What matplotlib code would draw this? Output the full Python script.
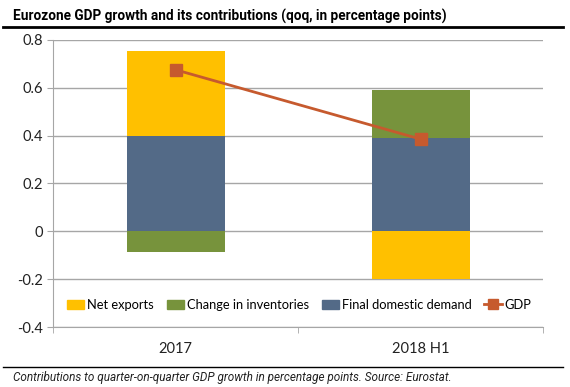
import matplotlib.pyplot as plt
from matplotlib.lines import Line2D
from matplotlib.patches import Patch

# data
categories = ['2017', '2018 H1']
net_exports = [0.355, -0.20]
inventories = [-0.085, 0.20]
domestic_demand = [0.40, 0.39]
gdp = [0.675, 0.385]

c_net = '#FFC000'
c_inv = '#77933C'
c_dom = '#536A87'
c_gdp = '#C65A2E'

plt.rcParams['font.family'] = ['Lato', 'DejaVu Sans']

fig = plt.figure(figsize=(5.7, 3.87), dpi=100)
ax = fig.add_axes([0.093, 0.155, 0.86, 0.742])

x = list(range(len(categories)))
w = 0.4

# stack positives upward and negatives downward
pos_base = [0.0] * len(x)
neg_base = [0.0] * len(x)
for vals, col in [(domestic_demand, c_dom), (net_exports, c_net), (inventories, c_inv)]:
    for i, v in enumerate(vals):
        if v >= 0:
            ax.bar(x[i], v, w, bottom=pos_base[i], color=col, zorder=2)
            pos_base[i] += v
        else:
            ax.bar(x[i], v, w, bottom=neg_base[i], color=col, zorder=2)
            neg_base[i] += v

ax.plot(x, gdp, color=c_gdp, lw=2, marker='s', ms=8, zorder=3)

ax.set_xlim(-0.5, 1.5)
ax.set_ylim(-0.4, 0.8)
ax.set_yticks([-0.4, -0.2, 0, 0.2, 0.4, 0.6, 0.8])
ax.set_yticklabels(['-0.4', '-0.2', '0', '0.2', '0.4', '0.6', '0.8'])
ax.set_xticks(x)
ax.set_xticklabels(categories)
ax.set_xticks([-0.5, 0.5, 1.5], minor=True)
ax.tick_params(axis='x', which='major', length=0, pad=11, labelsize=10.5, colors='#222222')
ax.tick_params(axis='x', which='minor', length=4, color='#A6A6A6')
ax.tick_params(axis='y', length=4, color='#A6A6A6', labelsize=10.5, labelcolor='#222222')
ax.yaxis.grid(True, color='#A6A6A6', lw=1, zorder=0)
ax.set_axisbelow(True)
for s in ['top', 'right']:
    ax.spines[s].set_visible(False)
ax.spines['left'].set_color('#A6A6A6')
ax.spines['bottom'].set_color('#A6A6A6')

handles = [Patch(color=c_net), Patch(color=c_inv), Patch(color=c_dom),
           Line2D([], [], color=c_gdp, lw=2, marker='s', ms=7)]
labels = ['Net exports', 'Change in inventories', 'Final domestic demand', 'GDP']
ax.legend(handles, labels, loc='lower left', bbox_to_anchor=(0.01, 0.025), ncol=4,
          frameon=False, fontsize=9.3, handlelength=1.35, handleheight=0.65,
          handletextpad=0.2, columnspacing=1.0, borderaxespad=0.3)

fig.text(0.023, 0.957, 'Eurozone GDP growth and its contributions (qoq, in percentage points)',
         fontsize=9.8, fontweight='bold', family='Roboto', va='center')
fig.add_artist(Line2D([0.005, 0.988], [0.93, 0.93], color='black', lw=2))
fig.add_artist(Line2D([0.005, 0.988], [0.052, 0.052], color='black', lw=1))
fig.text(0.023, 0.025, 'Contributions to quarter-on-quarter GDP growth in percentage points. Source: Eurostat.',
         fontsize=8.45, style='italic', family='Roboto', va='center', color='#222222')

fig.savefig('out.png', dpi=100)
